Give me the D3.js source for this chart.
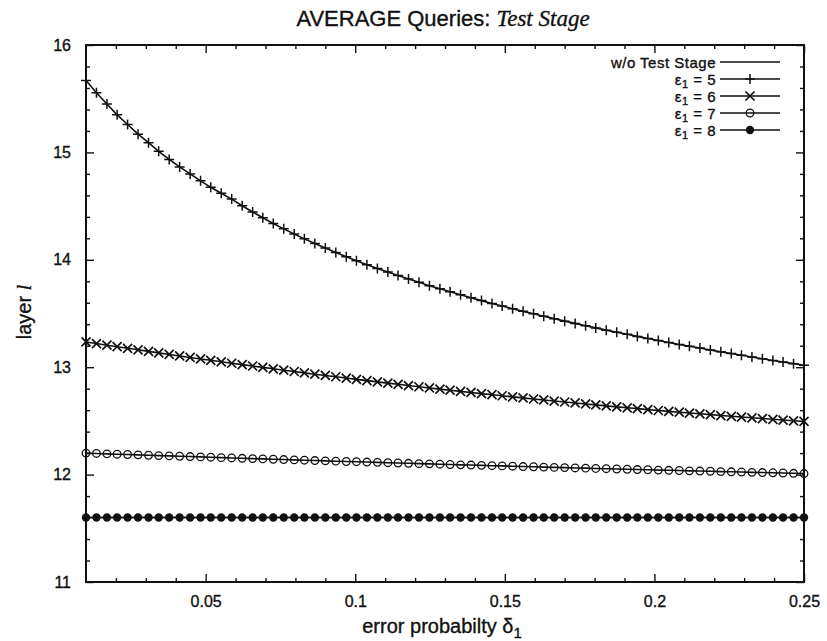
<!DOCTYPE html>
<html>
<head>
<meta charset="utf-8">
<script src="https://cdn.jsdelivr.net/npm/d3@7"></script>
<style>
  body { margin: 0; background: #fff; }
  text { fill: #111; }
</style>
</head>
<body>
<svg id="chart" width="827" height="641"></svg>
<script>
// error probability samples (x axis)
const deltas = [
  0.0100, 0.0135, 0.0170, 0.0204, 0.0239, 0.0274, 0.0309, 0.0343, 0.0378, 0.0413,
  0.0448, 0.0483, 0.0517, 0.0552, 0.0587, 0.0622, 0.0657, 0.0691, 0.0726, 0.0761,
  0.0796, 0.0830, 0.0865, 0.0900, 0.0935, 0.0970, 0.1004, 0.1039, 0.1074, 0.1109,
  0.1143, 0.1178, 0.1213, 0.1248, 0.1283, 0.1317, 0.1352, 0.1387, 0.1422, 0.1457,
  0.1491, 0.1526, 0.1561, 0.1596, 0.1630, 0.1665, 0.1700, 0.1735, 0.1770, 0.1804,
  0.1839, 0.1874, 0.1909, 0.1943, 0.1978, 0.2013, 0.2048, 0.2083, 0.2117, 0.2152,
  0.2187, 0.2222, 0.2257, 0.2291, 0.2326, 0.2361, 0.2396, 0.2430, 0.2465, 0.2500
];

// layer l, epsilon_1 = 5
const layerEps5 = [
  15.67, 15.555, 15.45, 15.35, 15.26, 15.17, 15.09, 15.01, 14.935, 14.865,
  14.80, 14.735, 14.675, 14.62, 14.565, 14.503, 14.445, 14.391, 14.338, 14.288,
  14.240, 14.195, 14.151, 14.109, 14.068, 14.029, 13.992, 13.955, 13.920, 13.886,
  13.853, 13.821, 13.790, 13.759, 13.730, 13.702, 13.674, 13.647, 13.620, 13.594,
  13.569, 13.545, 13.520, 13.497, 13.474, 13.452, 13.429, 13.408, 13.386, 13.366,
  13.345, 13.325, 13.306, 13.287, 13.268, 13.249, 13.230, 13.212, 13.195, 13.178,
  13.160, 13.143, 13.127, 13.111, 13.095, 13.079, 13.063, 13.048, 13.033, 13.018
];

// layer l, epsilon_1 = 6
const layerEps6 = [
  13.235, 13.220, 13.205, 13.191, 13.176, 13.162, 13.147, 13.133, 13.119, 13.105,
  13.091, 13.077, 13.064, 13.050, 13.037, 13.024, 13.011, 12.998, 12.985, 12.972,
  12.960, 12.947, 12.935, 12.923, 12.911, 12.899, 12.887, 12.875, 12.863, 12.852,
  12.841, 12.829, 12.818, 12.807, 12.796, 12.786, 12.775, 12.765, 12.754, 12.744,
  12.734, 12.724, 12.714, 12.704, 12.695, 12.685, 12.676, 12.667, 12.658, 12.649,
  12.640, 12.631, 12.622, 12.614, 12.605, 12.597, 12.589, 12.581, 12.573, 12.566,
  12.558, 12.550, 12.543, 12.536, 12.529, 12.522, 12.515, 12.508, 12.501, 12.495
];

// layer l, epsilon_1 = 7
const layerEps7 = [
  12.200, 12.197, 12.193, 12.190, 12.187, 12.184, 12.180, 12.177, 12.174, 12.171,
  12.168, 12.165, 12.162, 12.158, 12.155, 12.152, 12.149, 12.146, 12.143, 12.140,
  12.137, 12.134, 12.131, 12.128, 12.125, 12.122, 12.120, 12.117, 12.114, 12.111,
  12.108, 12.105, 12.102, 12.100, 12.097, 12.094, 12.091, 12.089, 12.086, 12.083,
  12.081, 12.078, 12.075, 12.073, 12.070, 12.067, 12.065, 12.062, 12.060, 12.057,
  12.055, 12.052, 12.050, 12.047, 12.045, 12.042, 12.040, 12.038, 12.035, 12.033,
  12.031, 12.028, 12.026, 12.024, 12.021, 12.019, 12.017, 12.015, 12.012, 12.010
];

// layer l, epsilon_1 = 8
const layerEps8 = [
  11.6, 11.6, 11.6, 11.6, 11.6, 11.6, 11.6, 11.6, 11.6, 11.6,
  11.6, 11.6, 11.6, 11.6, 11.6, 11.6, 11.6, 11.6, 11.6, 11.6,
  11.6, 11.6, 11.6, 11.6, 11.6, 11.6, 11.6, 11.6, 11.6, 11.6,
  11.6, 11.6, 11.6, 11.6, 11.6, 11.6, 11.6, 11.6, 11.6, 11.6,
  11.6, 11.6, 11.6, 11.6, 11.6, 11.6, 11.6, 11.6, 11.6, 11.6,
  11.6, 11.6, 11.6, 11.6, 11.6, 11.6, 11.6, 11.6, 11.6, 11.6,
  11.6, 11.6, 11.6, 11.6, 11.6, 11.6, 11.6, 11.6, 11.6, 11.6
];

// without the test stage (constant layer)
const noTestDeltas = [0.01, 0.25];
const layerNoTest = [11.6, 11.6];

const xTickValues = [0.05, 0.1, 0.15, 0.2, 0.25];
const xTickLabels = ["0.05", "0.1", "0.15", "0.2", "0.25"];
const xMinorTicks = [0.02, 0.03, 0.04, 0.06, 0.07, 0.08, 0.09, 0.11, 0.12, 0.13, 0.14,
                     0.16, 0.17, 0.18, 0.19, 0.21, 0.22, 0.23, 0.24];
const yTickValues = [11, 12, 13, 14, 15, 16];
const yTickLabels = ["11", "12", "13", "14", "15", "16"];
const yMinorTicks = [11.2, 11.4, 11.6, 11.8, 12.2, 12.4, 12.6, 12.8, 13.2, 13.4, 13.6, 13.8,
                     14.2, 14.4, 14.6, 14.8, 15.2, 15.4, 15.6, 15.8];

const seriesNames = ["w/o Test Stage", "5", "6", "7", "8"];

const svg = d3.select("#chart");
const sans = "'Liberation Sans', Arial, Helvetica, sans-serif";
const serif = "'Liberation Serif', 'Times New Roman', serif";
const ink = "#111";

const plotLeft = 86, plotRight = 804, plotTop = 45, plotBottom = 582;
const x = d3.scaleLinear().domain([0.01, 0.25]).range([plotLeft, plotRight]);
const y = d3.scaleLinear().domain([11, 16]).range([plotBottom, plotTop]);

// slightly heavier glyphs, like a printed figure
function inkText(sel) {
  return sel.attr("fill", ink).attr("stroke", ink).attr("stroke-width", 0.35);
}

// inward-pointing ticks on all four sides
function styleAxis(g) {
  g.select(".domain").remove();
  g.selectAll(".tick line").attr("stroke", ink).attr("stroke-width", 1.4);
  g.selectAll(".tick text").attr("font-family", sans).attr("font-size", 16).call(inkText);
}
svg.append("g").attr("transform", `translate(0,${plotBottom})`)
  .call(d3.axisBottom(x).tickValues(xTickValues).tickSize(-8).tickPadding(14)
    .tickFormat((d, i) => xTickLabels[i]))
  .call(styleAxis);
svg.append("g").attr("transform", `translate(0,${plotBottom})`)
  .call(d3.axisBottom(x).tickValues(xMinorTicks).tickSize(-4).tickFormat(""))
  .call(styleAxis);
svg.append("g").attr("transform", `translate(0,${plotTop})`)
  .call(d3.axisTop(x).tickValues(xTickValues).tickSize(-8).tickFormat(""))
  .call(styleAxis);
svg.append("g").attr("transform", `translate(0,${plotTop})`)
  .call(d3.axisTop(x).tickValues(xMinorTicks).tickSize(-4).tickFormat(""))
  .call(styleAxis);
svg.append("g").attr("transform", `translate(${plotLeft},0)`)
  .call(d3.axisLeft(y).tickValues(yTickValues).tickSize(-8).tickPadding(15)
    .tickFormat((d, i) => yTickLabels[i]))
  .call(styleAxis);
svg.append("g").attr("transform", `translate(${plotLeft},0)`)
  .call(d3.axisLeft(y).tickValues(yMinorTicks).tickSize(-4).tickFormat(""))
  .call(styleAxis);
svg.append("g").attr("transform", `translate(${plotRight},0)`)
  .call(d3.axisRight(y).tickValues(yTickValues).tickSize(-8).tickFormat(""))
  .call(styleAxis);
svg.append("g").attr("transform", `translate(${plotRight},0)`)
  .call(d3.axisRight(y).tickValues(yMinorTicks).tickSize(-4).tickFormat(""))
  .call(styleAxis);

// plot frame
svg.append("rect")
  .attr("x", plotLeft).attr("y", plotTop)
  .attr("width", plotRight - plotLeft).attr("height", plotBottom - plotTop)
  .attr("fill", "none").attr("stroke", ink).attr("stroke-width", 2);

// point symbols
const markers = {
  plus: g => g.append("path").attr("d", "M-5,0H5M0,-5V5")
    .attr("stroke", ink).attr("stroke-width", 1.5).attr("fill", "none"),
  cross: g => g.append("path").attr("d", "M-4.5,-4.5L4.5,4.5M-4.5,4.5L4.5,-4.5")
    .attr("stroke", ink).attr("stroke-width", 1.7).attr("fill", "none"),
  circle: g => g.append("circle").attr("r", 3.8)
    .attr("stroke", ink).attr("stroke-width", 1.3).attr("fill", "none"),
  dot: g => g.append("circle").attr("r", 4.2).attr("fill", ink)
};

const line = d3.line().x(d => x(d[0])).y(d => y(d[1]));

const series = [
  { xs: noTestDeltas, ys: layerNoTest, marker: null },
  { xs: deltas, ys: layerEps5, marker: "plus" },
  { xs: deltas, ys: layerEps6, marker: "cross" },
  { xs: deltas, ys: layerEps7, marker: "circle" },
  { xs: deltas, ys: layerEps8, marker: "dot" }
];

const plot = svg.append("g");
series.forEach(s => {
  const pts = s.xs.map((d, i) => [d, s.ys[i]]);
  plot.append("path").datum(pts).attr("d", line)
    .attr("fill", "none").attr("stroke", ink).attr("stroke-width", 1.6);
  if (s.marker) {
    plot.selectAll(null).data(pts).enter().append("g")
      .attr("transform", d => `translate(${x(d[0])},${y(d[1])})`)
      .each(function () { markers[s.marker](d3.select(this)); });
  }
});

// legend
const legend = svg.append("g");
series.forEach((s, i) => {
  const ly = 62 + i * 17;
  const t = legend.append("text")
    .attr("x", 716).attr("y", ly + 5.5)
    .attr("text-anchor", "end")
    .attr("font-family", sans).attr("font-size", 15)
    .attr("letter-spacing", 0.5)
    .call(inkText);
  if (i === 0) {
    t.text(seriesNames[0]);
  } else {
    t.append("tspan").text("\u03b5");
    t.append("tspan").attr("font-size", 11).attr("dy", 3).text("1");
    t.append("tspan").attr("dy", -3).text(" = " + seriesNames[i]);
  }
  legend.append("line")
    .attr("x1", 720).attr("x2", 780).attr("y1", ly).attr("y2", ly)
    .attr("stroke", ink).attr("stroke-width", 1.6);
  if (s.marker) {
    const g = legend.append("g").attr("transform", `translate(750,${ly})`);
    markers[s.marker](g);
  }
});

// title
const title = svg.append("text")
  .attr("x", 443).attr("y", 26)
  .attr("text-anchor", "middle")
  .attr("font-size", 22)
  .call(inkText);
title.append("tspan").attr("font-family", sans).text("AVERAGE Queries: ");
title.append("tspan").attr("font-family", serif).attr("font-style", "italic").attr("font-size", 23).text("Test Stage");

// axis titles
const xTitle = svg.append("text")
  .attr("x", 442).attr("y", 633)
  .attr("text-anchor", "middle")
  .attr("font-family", sans).attr("font-size", 20)
  .call(inkText);
xTitle.append("tspan").text("error probabilty \u03b4");
xTitle.append("tspan").attr("font-size", 15).attr("dy", 5).text("1");

const yTitle = svg.append("text")
  .attr("transform", "translate(30.5,312) rotate(-90)")
  .attr("text-anchor", "middle")
  .attr("font-family", sans).attr("font-size", 20)
  .call(inkText);
yTitle.append("tspan").text("layer ");
yTitle.append("tspan").attr("font-family", serif).attr("font-style", "italic").text("l");
</script>
</body>
</html>
